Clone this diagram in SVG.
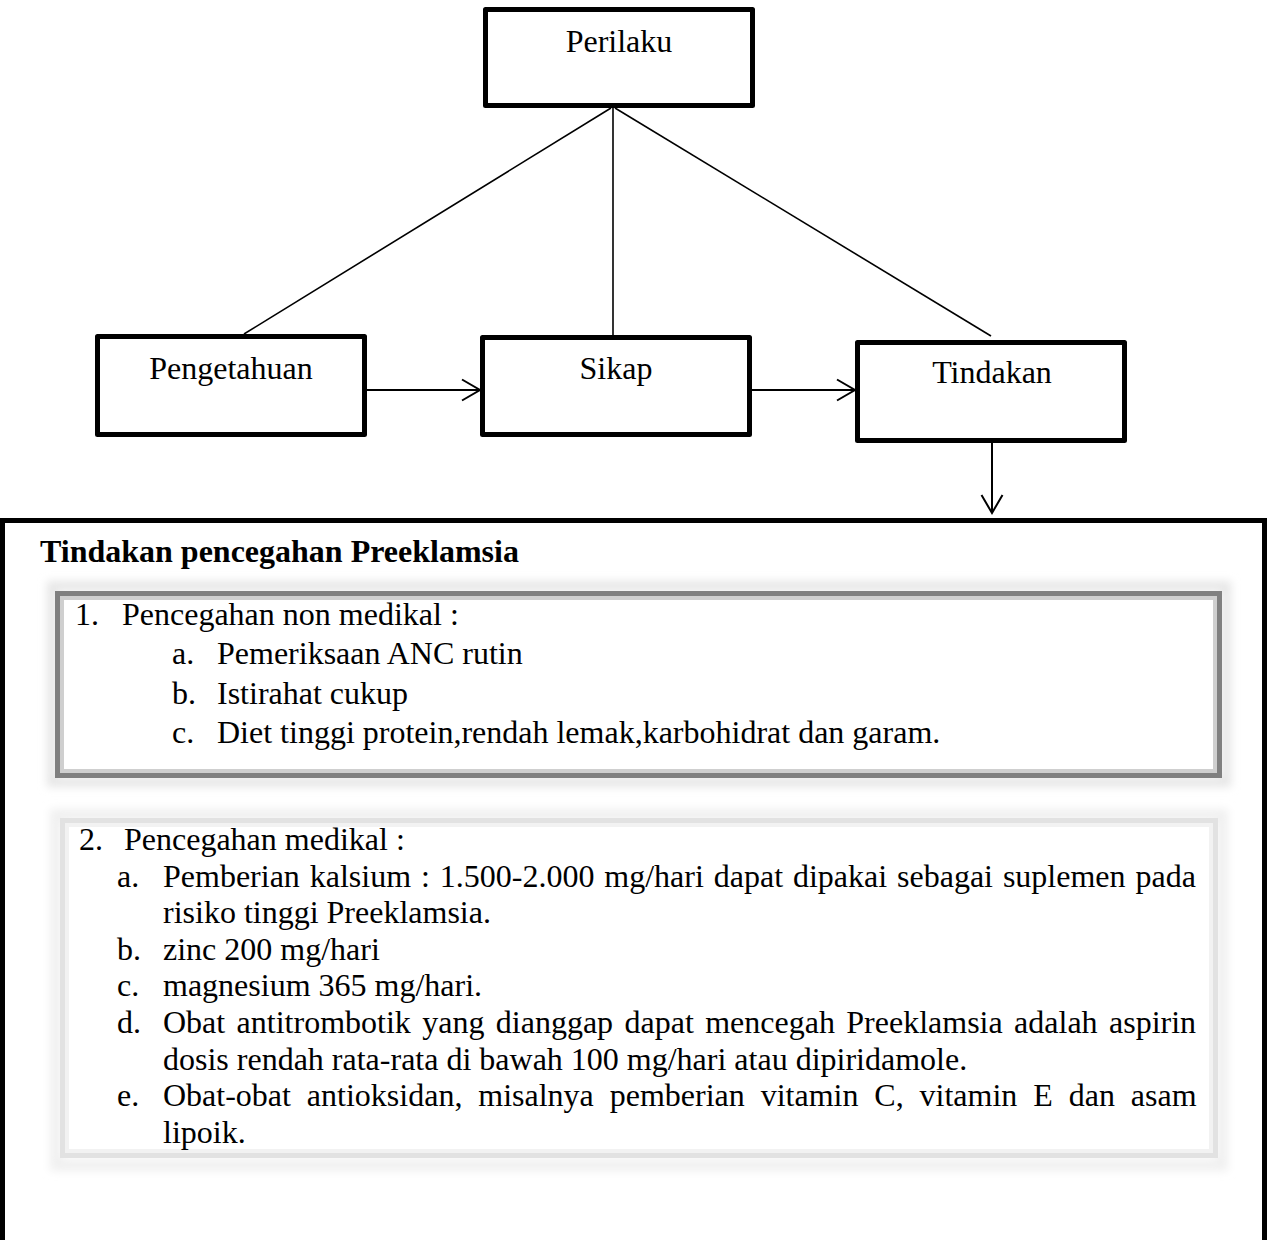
<svg xmlns="http://www.w3.org/2000/svg" width="1269" height="1240" viewBox="0 0 1269 1240">
  <defs>
    <marker id="open" markerUnits="userSpaceOnUse" markerWidth="24" markerHeight="24" refX="20" refY="12" orient="auto">
      <path d="M2,1.5 L20,12 L2,22.5" fill="none" stroke="#000" stroke-width="2"/>
    </marker>
    <filter id="soft" x="-5%" y="-10%" width="110%" height="120%">
      <feGaussianBlur stdDeviation="4"/>
    </filter>
    <style>
      .node { fill: #fff; stroke: #000; stroke-width: 5; stroke-linejoin: round; }
      .lbl { font-family: "Liberation Serif", "Times New Roman", serif; font-size: 32px; fill: #000; text-anchor: middle; }
      .t { font-family: "Liberation Serif", "Times New Roman", serif; font-size: 32px; fill: #000; }
      .b { font-weight: bold; }
      .edge { stroke: #000; stroke-width: 1.6; fill: none; }
      .arr { stroke: #000; stroke-width: 2; fill: none; marker-end: url(#open); }
    </style>
  </defs>
  <rect width="1269" height="1240" fill="#fff"/>

  <g id="connectors">
    <line class="edge" x1="611" y1="108" x2="244" y2="334"/>
    <line class="edge" x1="613" y1="108" x2="613" y2="335"/>
    <line class="edge" x1="615" y1="108" x2="991" y2="336"/>
    <line class="arr" x1="367" y1="390" x2="480" y2="390"/>
    <line class="arr" x1="752" y1="390" x2="855" y2="390"/>
    <line class="arr" x1="992" y1="443" x2="992" y2="513"/>
  </g>

  <g id="perilaku">
    <rect class="node" x="485.5" y="9.5" width="267" height="96"/>
    <text class="lbl" x="619" y="52">Perilaku</text>
  </g>
  <g id="pengetahuan">
    <rect class="node" x="97.5" y="336.5" width="267" height="98"/>
    <text class="lbl" x="231" y="379">Pengetahuan</text>
  </g>
  <g id="sikap">
    <rect class="node" x="482.5" y="337.5" width="267" height="97"/>
    <text class="lbl" x="616" y="379">Sikap</text>
  </g>
  <g id="tindakan">
    <rect class="node" x="857.5" y="342.5" width="267" height="98"/>
    <text class="lbl" x="992" y="383">Tindakan</text>
  </g>

  <g id="pencegahan">
    <rect x="2.5" y="520.5" width="1262" height="745" fill="none" stroke="#000" stroke-width="5"/>
    <text class="t b" x="40" y="562">Tindakan pencegahan Preeklamsia</text>

    <g id="non-medikal">
      <rect x="52" y="586" width="1174" height="196" fill="none" stroke="#e6e6e6" stroke-width="10" filter="url(#soft)"/>
      <rect x="57.5" y="593.5" width="1162" height="182" fill="#fff" stroke="#808080" stroke-width="5"/>
      <rect x="62" y="598" width="1153" height="173" fill="none" stroke="#cfcfcf" stroke-width="4"/>
      <text class="t" x="75" y="625">1.</text>
      <text class="t" x="122" y="625">Pencegahan non medikal :</text>
      <text class="t" x="172" y="664">a.</text>
      <text class="t" x="217" y="664">Pemeriksaan ANC rutin</text>
      <text class="t" x="172" y="704">b.</text>
      <text class="t" x="217" y="704">Istirahat cukup</text>
      <text class="t" x="172" y="743">c.</text>
      <text class="t" x="217" y="743">Diet tinggi protein,rendah lemak,karbohidrat dan garam.</text>
    </g>

    <g id="medikal">
      <rect x="56" y="815" width="1166" height="350" fill="none" stroke="#f0f0f0" stroke-width="12" filter="url(#soft)"/>
      <rect x="62.5" y="820.5" width="1153" height="335" fill="#fff" stroke="#e2e2e2" stroke-width="5"/>
      <rect x="67" y="825" width="1144" height="326" fill="none" stroke="#f2f2f2" stroke-width="4"/>
      <text class="t" x="79" y="850">2.</text>
      <text class="t" x="124" y="850">Pencegahan medikal :</text>
      <text class="t" x="117" y="887">a.</text>
      <text class="t" x="163" y="887" word-spacing="1.9">Pemberian kalsium : 1.500-2.000 mg/hari dapat dipakai sebagai suplemen pada</text>
      <text class="t" x="163" y="923">risiko tinggi Preeklamsia.</text>
      <text class="t" x="117" y="960">b.</text>
      <text class="t" x="163" y="960">zinc 200 mg/hari</text>
      <text class="t" x="117" y="996">c.</text>
      <text class="t" x="163" y="996">magnesium 365 mg/hari.</text>
      <text class="t" x="117" y="1033">d.</text>
      <text class="t" x="163" y="1033" word-spacing="3.4">Obat antitrombotik yang dianggap dapat mencegah Preeklamsia adalah aspirin</text>
      <text class="t" x="163" y="1070">dosis rendah rata-rata di bawah 100 mg/hari atau dipiridamole.</text>
      <text class="t" x="117" y="1106">e.</text>
      <text class="t" x="163" y="1106" word-spacing="7.9">Obat-obat antioksidan, misalnya pemberian vitamin C, vitamin E dan asam</text>
      <text class="t" x="163" y="1143">lipoik.</text>
    </g>
  </g>
</svg>
